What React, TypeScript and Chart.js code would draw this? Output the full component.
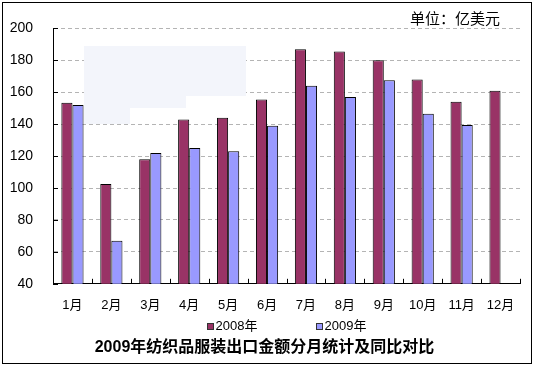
import React, { useEffect, useRef } from "react";
import { Chart, registerables } from "chart.js";

Chart.register(...registerables);

const months = ["1月", "2月", "3月", "4月", "5月", "6月", "7月", "8月", "9月", "10月", "11月", "12月"];
const exports2008 = [153.5, 102.5, 118, 143, 144, 155.5, 187, 185.5, 180, 168, 154, 161];
const exports2009 = [152, 67, 122, 125, 123, 139, 164, 157, 167.5, 146.5, 139.5, null];
const seriesNames = ["2008年", "2009年"];
const seriesColors = ["#993366", "#9999FF"];
const yMin = 40;
const yMax = 200;
const yStep = 20;
const unitLabel = "单位：亿美元";
const titleText = "2009年纺织品服装出口金额分月统计及同比对比";

const FONT = "'Liberation Sans', 'Noto Sans CJK SC', sans-serif";

const decorPlugin = {
  id: "decor",
  beforeDatasetsDraw(chart: any) {
    const ctx = chart.ctx;
    // faint erased patch in the upper left of the plot
    ctx.save();
    ctx.fillStyle = "#f3f5fb";
    ctx.fillRect(84, 46, 162, 50);
    ctx.fillRect(84, 96, 102, 12);
    ctx.fillRect(84, 108, 46, 16);
    ctx.restore();
  },
  afterDraw(chart: any) {
    const ctx = chart.ctx;
    const area = chart.chartArea;
    const ys = chart.scales.y;
    ctx.save();
    // inward tick marks
    ctx.strokeStyle = "#000";
    ctx.lineWidth = 1;
    ctx.setLineDash([]);
    ctx.beginPath();
    ys.ticks.forEach((t: any) => {
      const py = Math.round(ys.getPixelForValue(t.value)) + 0.5;
      ctx.moveTo(area.left, py);
      ctx.lineTo(area.left + 5, py);
    });
    const n = months.length;
    for (let i = 1; i <= n; i++) {
      const px = Math.round(area.left + (i * (area.right - area.left)) / n) + 0.5;
      ctx.moveTo(px, area.bottom);
      ctx.lineTo(px, area.bottom - 5);
    }
    ctx.stroke();

    // unit label
    ctx.fillStyle = "#000";
    ctx.font = "15px " + FONT;
    ctx.textAlign = "left";
    ctx.textBaseline = "middle";
    ctx.fillText(unitLabel, 410, 20);

    // legend
    ctx.font = "13px " + FONT;
    const boxSize = 7;
    const gapBoxText = 2;
    const itemGap = 58;
    const widths = chart.data.datasets.map(
      (d: any) => boxSize + gapBoxText + ctx.measureText(d.label).width
    );
    const total = widths.reduce((a: number, b: number) => a + b, 0) + itemGap * (widths.length - 1);
    let lx = (area.left + area.right) / 2 - total / 2;
    const ly = 326;
    chart.data.datasets.forEach((d: any, i: number) => {
      ctx.fillStyle = d.backgroundColor;
      ctx.fillRect(Math.round(lx), ly - 3, boxSize, boxSize);
      ctx.strokeStyle = "#333";
      ctx.strokeRect(Math.round(lx) + 0.5, ly - 3 + 0.5, boxSize - 1, boxSize - 1);
      ctx.fillStyle = "#000";
      ctx.textBaseline = "middle";
      ctx.fillText(d.label, lx + boxSize + gapBoxText, ly);
      lx += widths[i] + itemGap;
    });

    // outer frame
    ctx.strokeStyle = "#000";
    ctx.lineWidth = 1;
    ctx.strokeRect(2.5, 2.5, 529, 361);
    ctx.restore();
  },
};

export default function App() {
  const ref = useRef<HTMLCanvasElement | null>(null);
  useEffect(() => {
    if (!ref.current) return;
    const chart = new Chart(ref.current, {
      type: "bar",
      data: {
        labels: months,
        datasets: [
          {
            label: seriesNames[0],
            data: exports2008,
            backgroundColor: seriesColors[0],
            borderColor: "#000",
            borderWidth: 1,
          },
          {
            label: seriesNames[1],
            data: exports2009 as any,
            backgroundColor: seriesColors[1],
            borderColor: "#000",
            borderWidth: 1,
          },
        ],
      },
      options: {
        responsive: false,
        animation: false,
        devicePixelRatio: 1,
        layout: { padding: { left: 9, right: 14, top: 26, bottom: 6 } },
        datasets: { bar: { barPercentage: 1, categoryPercentage: 0.57 } },
        scales: {
          x: {
            grid: { display: false, drawTicks: false },
            border: { display: true, color: "#000", width: 1 },
            ticks: { color: "#000", font: { size: 13, family: FONT }, padding: 14, maxRotation: 0, autoSkip: false },
            afterFit(scale: any) {
              scale.height = 32;
            },
          },
          y: {
            min: yMin,
            max: yMax,
            grid: { color: "#b4b4b4", drawTicks: false, lineWidth: 1 },
            border: { display: true, color: "#000", width: 1, dash: [4, 3] },
            ticks: { stepSize: yStep, color: "#000", font: { size: 14, family: FONT }, padding: 20 },
            afterFit(scale: any) {
              scale.width = 44;
            },
          },
        },
        plugins: {
          legend: { display: false },
          tooltip: { enabled: false },
          title: {
            display: true,
            text: titleText,
            position: "bottom",
            color: "#000",
            font: { size: 16, weight: "bold", family: FONT },
            padding: { top: 22, bottom: 3 },
          },
        },
      },
      plugins: [
        {
          id: "whiteBg",
          beforeDraw(chart: any) {
            chart.ctx.save();
            chart.ctx.fillStyle = "#fff";
            chart.ctx.fillRect(0, 0, chart.width, chart.height);
            chart.ctx.restore();
          },
        },
        decorPlugin,
      ],
    });
    return () => chart.destroy();
  }, []);
  return (
    <div style={{ position: "absolute", left: 0, top: 0, width: 534, height: 366, background: "#fff" }}>
      <canvas ref={ref} width={534} height={366} style={{ display: "block" }} />
    </div>
  );
}
